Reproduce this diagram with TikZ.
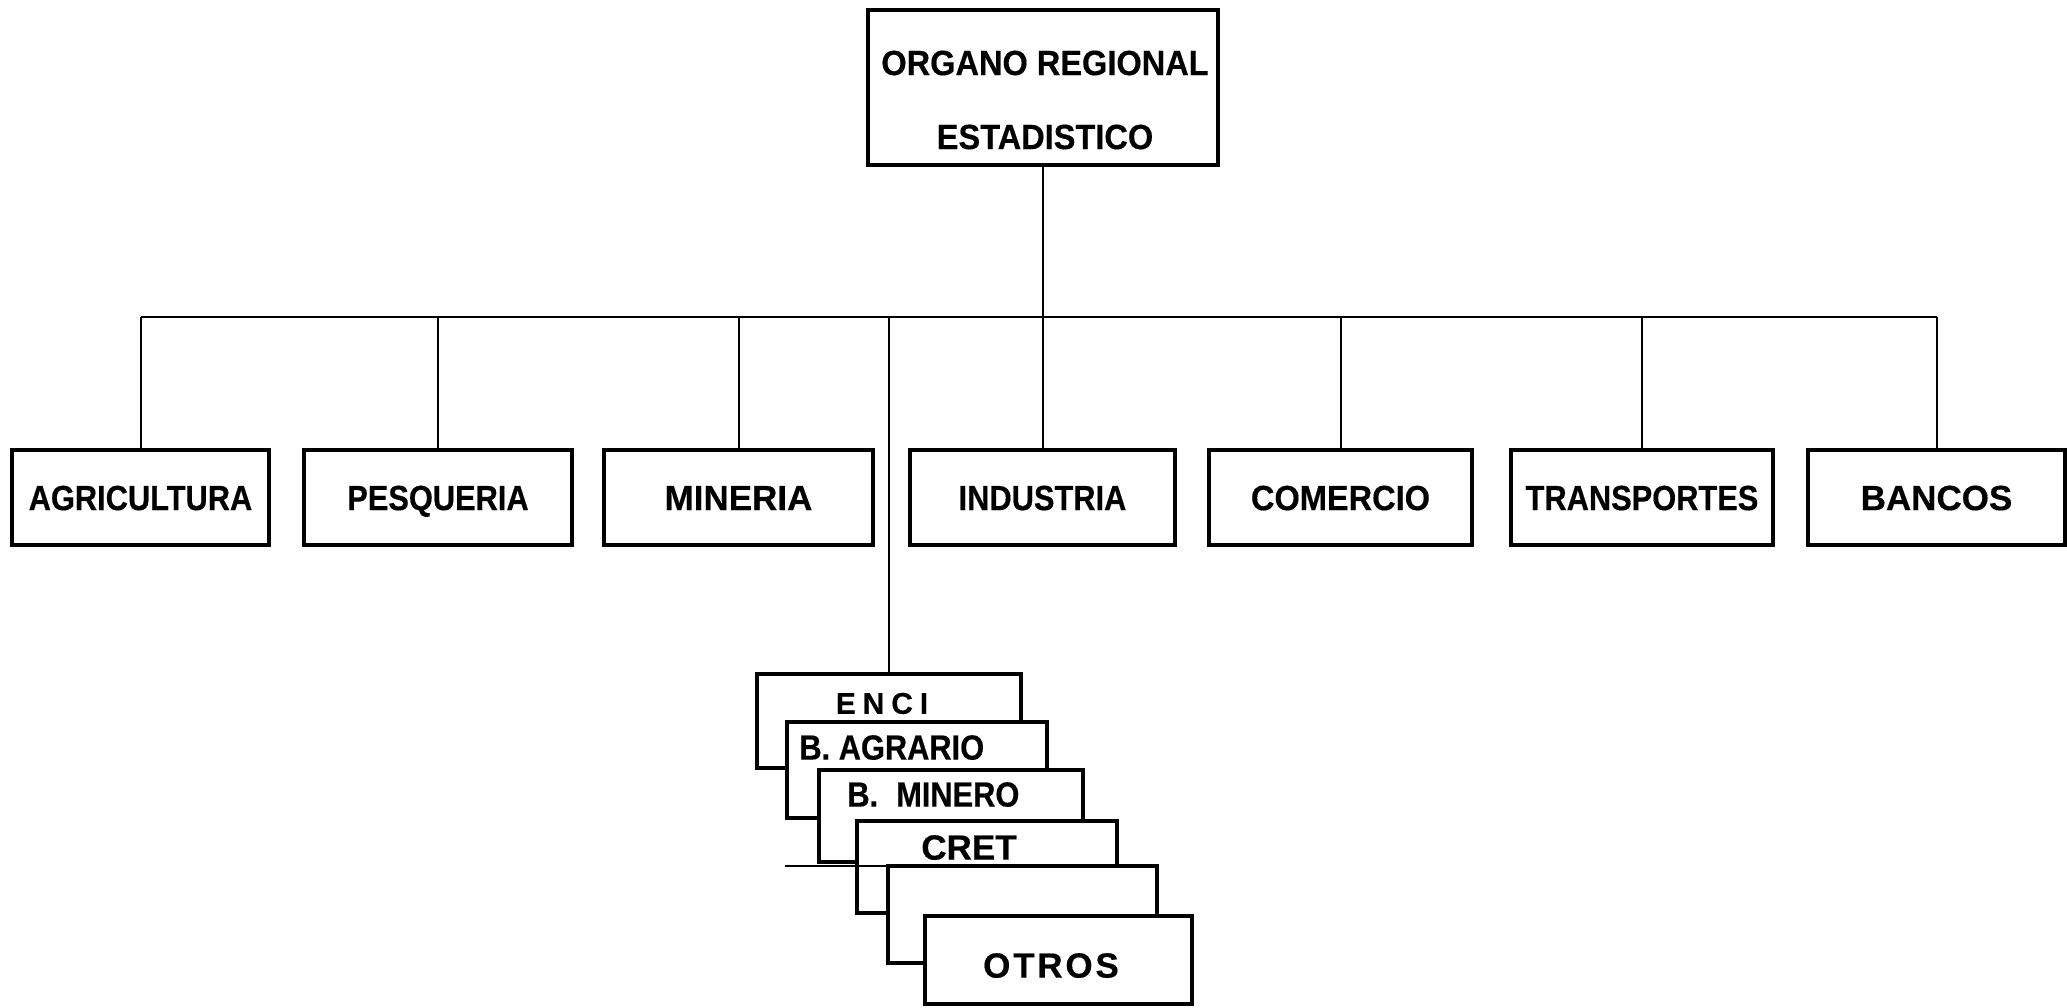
\documentclass[tikz,border=0pt]{standalone}
\usepackage{fontspec}
\setmainfont{Liberation Sans}
\newfontfamily\fnarrow[FakeStretch=0.88,FakeBold=0.4]{Liberation Sans}
\newfontfamily\fmid[FakeStretch=0.93,FakeBold=0.4]{Liberation Sans}
\newfontfamily\fwide[FakeStretch=1.0,FakeBold=0.4]{Liberation Sans}
\begin{document}
\begin{tikzpicture}[x=0.5pt,y=-0.5pt,
  nf/.style={font=\fnarrow\bfseries\fontsize{17.5}{37}\selectfont},
  mf/.style={font=\fmid\bfseries\fontsize{17.5}{37}\selectfont},
  wf/.style={font=\fwide\bfseries\fontsize{17.5}{37}\selectfont},
  box/.style={draw,line width=1.6pt,fill=white,inner sep=0pt,minimum height=47.5pt,
              text height=12.6pt,text depth=0pt,nf},
  card/.style={draw,line width=1.6pt,fill=white,inner sep=0pt},
  lbl/.style={inner sep=0pt,text height=12.6pt,text depth=0pt,nf},
  wire/.style={line width=1pt}]
\useasboundingbox (0,0) rectangle (2067,1007);

% top box
\node[card, minimum width=175pt, minimum height=77.5pt] (top) at (1043,87.5) {};
\node[inner sep=0pt, align=center, mf] (toptxt) at (1045,100) {ORGANO REGIONAL\\ESTADISTICO};

% second row
\node[box, minimum width=128.5pt] (agr) at (140.5,497.5) {AGRICULTURA};
\node[box, minimum width=134pt] (pes) at (438,497.5) {PESQUERIA};
\node[box, minimum width=134.5pt, wf] (min) at (738.5,497.5) {MINERIA};
\node[box, minimum width=132.5pt] (ind) at (1042.5,497.5) {INDUSTRIA};
\node[box, minimum width=131.5pt, mf] (com) at (1340.5,497.5) {COMERCIO};
\node[box, minimum width=131pt] (tra) at (1642,497.5) {TRANSPORTES};
\node[box, minimum width=128.5pt, wf] (ban) at (1936.5,497.5) {BANCOS};

% stacked cards
\node[card, minimum width=132pt, minimum height=47pt] (enci) at (889,721) {};
\node[card, minimum width=130pt, minimum height=48pt] (bagr) at (917,770) {};
\node[card, minimum width=132pt, minimum height=46pt] (bmin) at (951,816) {};
\node[card, minimum width=130pt, minimum height=46pt] (cret) at (987,867) {};
\node[card, minimum width=134.5pt, minimum height=48.5pt] (blank) at (1022.5,914.5) {};
\node[card, minimum width=133.5pt, minimum height=44pt] (otros) at (1058.5,960) {};

\node[lbl, font=\fwide\bfseries\fontsize{15}{20}\selectfont\addfontfeature{LetterSpace=23}, text height=10.8pt] (encit) at (882,703) {ENCI};
\node[lbl, anchor=west] (bagrt) at (799,747) {B. AGRARIO};
\node[lbl, anchor=west] (bmint) at (847,794) {B.\hspace{9pt}MINERO};
\node[lbl, wf] (cretT) at (969,847) {CRET};
\node[lbl, font=\fwide\bfseries\fontsize{17.5}{20}\selectfont\addfontfeature{LetterSpace=8}] (otrosT) at (1051,965) {OTROS};

% stray line across the cards
\coordinate (sl) at (785,866);
\coordinate (sr) at (1120,866);
\draw[wire] (sl) -- (sr);

% connectors
\coordinate (bus) at (1043,317);
\draw[wire] (top.south) -- (top.south |- bus);
\draw[wire] (agr.north |- bus) -- (ban.north |- bus);
\foreach \n in {agr,pes,min,ind,com,tra,ban,enci}
  \draw[wire] (\n.north) -- (\n.north |- bus);
\end{tikzpicture}
\end{document}
